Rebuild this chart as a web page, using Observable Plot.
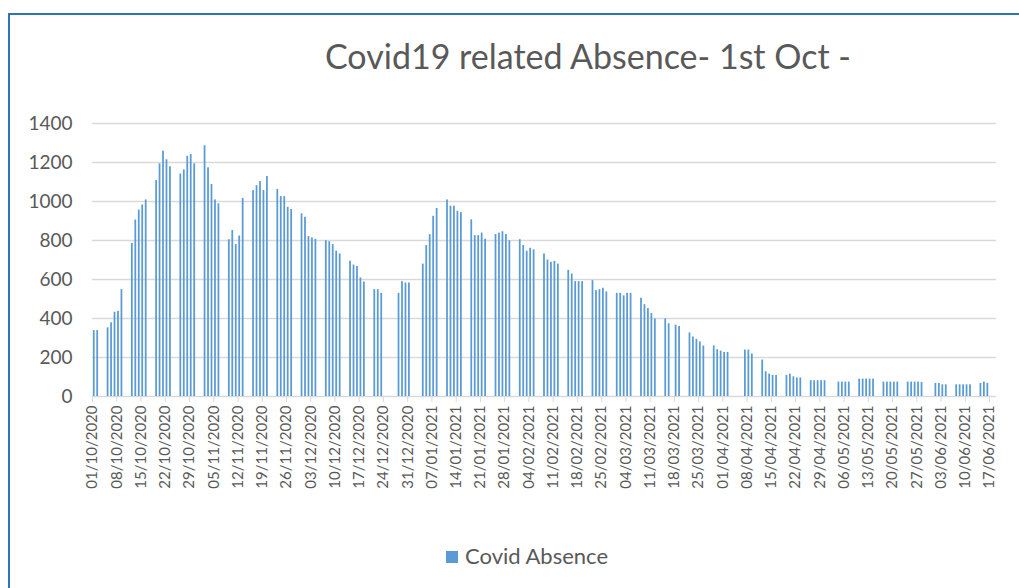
<!DOCTYPE html>
<html>
<head>
<meta charset="utf-8">
<script src="https://cdn.jsdelivr.net/npm/d3@7"></script>
<script src="https://cdn.jsdelivr.net/npm/@observablehq/plot@0.6"></script>
<style>
  html, body { margin: 0; padding: 0; background: #ffffff; }
  #wrap { position: relative; width: 1019px; height: 588px; overflow: hidden; font-family: Lato, "Open Sans", sans-serif; color: #595959; }
  #frame { position: absolute; left: 8px; top: 13px; width: 1019px; height: 600px; border-top: 2px solid #2e75b6; border-left: 2px solid #2e75b6; box-sizing: border-box; pointer-events: none; }
  #title { position: relative; height: 100px; }
  #title span { position: absolute; left: 325px; top: 39px; font-size: 34px; line-height: 1; white-space: nowrap; }
  #chart svg { display: block; }
  #legend { position: relative; height: 88px; }
  #legend .item { position: absolute; left: 446px; top: 45px; display: flex; align-items: center; font-size: 22px; line-height: 1; white-space: nowrap; }
  #legend .sw { width: 12px; height: 12px; background: #5b9bd5; margin-right: 7px; margin-top: 2px; }
</style>
</head>
<body>
<div id="wrap">
  <div id="frame"></div>
  <div id="title"><span>Covid19 related Absence- 1st Oct -</span></div>
  <div id="chart"></div>
  <div id="legend"><div class="item"><div class="sw"></div><span id="legtext"></span></div></div>
</div>
<script>
const seriesName = "Covid Absence";

const dates = [
  "01/10/2020","02/10/2020",
  "05/10/2020","06/10/2020","07/10/2020","08/10/2020","09/10/2020",
  "12/10/2020","13/10/2020","14/10/2020","15/10/2020","16/10/2020",
  "19/10/2020","20/10/2020","21/10/2020","22/10/2020","23/10/2020",
  "26/10/2020","27/10/2020","28/10/2020","29/10/2020","30/10/2020",
  "02/11/2020","03/11/2020","04/11/2020","05/11/2020","06/11/2020",
  "09/11/2020","10/11/2020","11/11/2020","12/11/2020","13/11/2020",
  "16/11/2020","17/11/2020","18/11/2020","19/11/2020","20/11/2020",
  "23/11/2020","24/11/2020","25/11/2020","26/11/2020","27/11/2020",
  "30/11/2020","01/12/2020","02/12/2020","03/12/2020","04/12/2020",
  "07/12/2020","08/12/2020","09/12/2020","10/12/2020","11/12/2020",
  "14/12/2020","15/12/2020","16/12/2020","17/12/2020","18/12/2020",
  "21/12/2020","22/12/2020","23/12/2020",
  "28/12/2020","29/12/2020","30/12/2020","31/12/2020",
  "04/01/2021","05/01/2021","06/01/2021","07/01/2021","08/01/2021",
  "11/01/2021","12/01/2021","13/01/2021","14/01/2021","15/01/2021",
  "18/01/2021","19/01/2021","20/01/2021","21/01/2021","22/01/2021",
  "25/01/2021","26/01/2021","27/01/2021","28/01/2021","29/01/2021",
  "01/02/2021","02/02/2021","03/02/2021","04/02/2021","05/02/2021",
  "08/02/2021","09/02/2021","10/02/2021","11/02/2021","12/02/2021",
  "15/02/2021","16/02/2021","17/02/2021","18/02/2021","19/02/2021",
  "22/02/2021","23/02/2021","24/02/2021","25/02/2021","26/02/2021",
  "01/03/2021","02/03/2021","03/03/2021","04/03/2021","05/03/2021",
  "08/03/2021","09/03/2021","10/03/2021","11/03/2021","12/03/2021",
  "15/03/2021","16/03/2021","18/03/2021","19/03/2021",
  "22/03/2021","23/03/2021","24/03/2021","25/03/2021","26/03/2021",
  "29/03/2021","30/03/2021","31/03/2021","01/04/2021","02/04/2021",
  "07/04/2021","08/04/2021","09/04/2021",
  "12/04/2021","13/04/2021","14/04/2021","15/04/2021","16/04/2021",
  "19/04/2021","20/04/2021","21/04/2021","22/04/2021","23/04/2021",
  "26/04/2021","27/04/2021","28/04/2021","29/04/2021","30/04/2021",
  "04/05/2021","05/05/2021","06/05/2021","07/05/2021",
  "10/05/2021","11/05/2021","12/05/2021","13/05/2021","14/05/2021",
  "17/05/2021","18/05/2021","19/05/2021","20/05/2021","21/05/2021",
  "24/05/2021","25/05/2021","26/05/2021","27/05/2021","28/05/2021",
  "01/06/2021","02/06/2021","03/06/2021","04/06/2021",
  "07/06/2021","08/06/2021","09/06/2021","10/06/2021","11/06/2021",
  "14/06/2021","15/06/2021","16/06/2021"
];

const absence = [
  338,338,
  352,378,432,437,548,
  785,905,956,982,1008,
  1107,1193,1258,1214,1178,
  1141,1162,1232,1241,1193,
  1286,1173,1087,1008,988,
  804,851,779,823,1016,
  1056,1081,1102,1056,1128,
  1062,1025,1025,970,959,
  937,
  919,820,813,806,
  799,794,779,745,731,
  693,674,667,608,587,
  548,548,529,
  529,589,582,582,
  679,774,830,924,964,
  1008,976,976,950,943,
  906,825,825,838,806,
  831,838,845,831,799,
  804,774,745,760,752,
  731,700,688,693,679,
  647,628,589,589,589,
  594,543,548,555,536,
  529,529,516,529,529,
  504,471,451,425,398,
  398,373,366,359,
  326,305,293,280,259,
  259,240,233,226,226,
  238,238,218,
  187,127,115,108,108,
  108,115,101,95,95,
  81,81,81,81,81,
  74,74,74,74,
  89,89,89,89,89,
  74,74,74,74,74,
  74,74,74,74,72,
  67,67,60,60,
  60,60,60,60,60,
  67,74,67
];

const tickLabels = [
  "01/10/2020","08/10/2020","15/10/2020","22/10/2020","29/10/2020",
  "05/11/2020","12/11/2020","19/11/2020","26/11/2020",
  "03/12/2020","10/12/2020","17/12/2020","24/12/2020","31/12/2020",
  "07/01/2021","14/01/2021","21/01/2021","28/01/2021",
  "04/02/2021","11/02/2021","18/02/2021","25/02/2021",
  "04/03/2021","11/03/2021","18/03/2021","25/03/2021",
  "01/04/2021","08/04/2021","15/04/2021","22/04/2021","29/04/2021",
  "06/05/2021","13/05/2021","20/05/2021","27/05/2021",
  "03/06/2021","10/06/2021","17/06/2021"
];

const yTicks = [0, 200, 400, 600, 800, 1000, 1200, 1400];
const xStart = "01/10/2020";
const xEnd = "19/06/2021";

const parse = d3.utcParse("%d/%m/%Y");
const fmt = d3.utcFormat("%d/%m/%Y");
const data = dates.map((d, i) => ({ date: parse(d), next: d3.utcDay.offset(parse(d), 1), value: absence[i] }));
const tickDates = tickLabels.map(parse);

document.getElementById("legtext").textContent = seriesName;

const chart = Plot.plot({
  width: 1019,
  height: 400,
  marginTop: 23,
  marginBottom: 104,
  marginLeft: 92,
  marginRight: 23,
  style: { fontFamily: "Lato, 'Open Sans', sans-serif", color: "#595959", background: "transparent" },
  x: { type: "utc", domain: [parse(xStart), parse(xEnd)], label: null },
  y: { domain: [0, 1400], label: null },
  marks: [
    Plot.gridY(yTicks, { stroke: "#d9d9d9", strokeOpacity: 1, strokeWidth: 1.4 }),
    Plot.rectY(data, { x1: "date", x2: "next", y: "value", fill: "#5b9bd5", insetLeft: 0.85, insetRight: 0.85 }),
    Plot.axisX({ ticks: tickDates, tickFormat: fmt, tickRotate: -90, tickSize: 6, tickPadding: 3, stroke: "#d9d9d9", strokeOpacity: 1, fill: "#595959", fontSize: 15, label: null }),
    Plot.axisY({ ticks: yTicks, tickFormat: d => String(d), tickSize: 0, tickPadding: 20, fill: "#595959", fontSize: 19, label: null })
  ]
});
document.getElementById("chart").appendChild(chart);
</script>
</body>
</html>
